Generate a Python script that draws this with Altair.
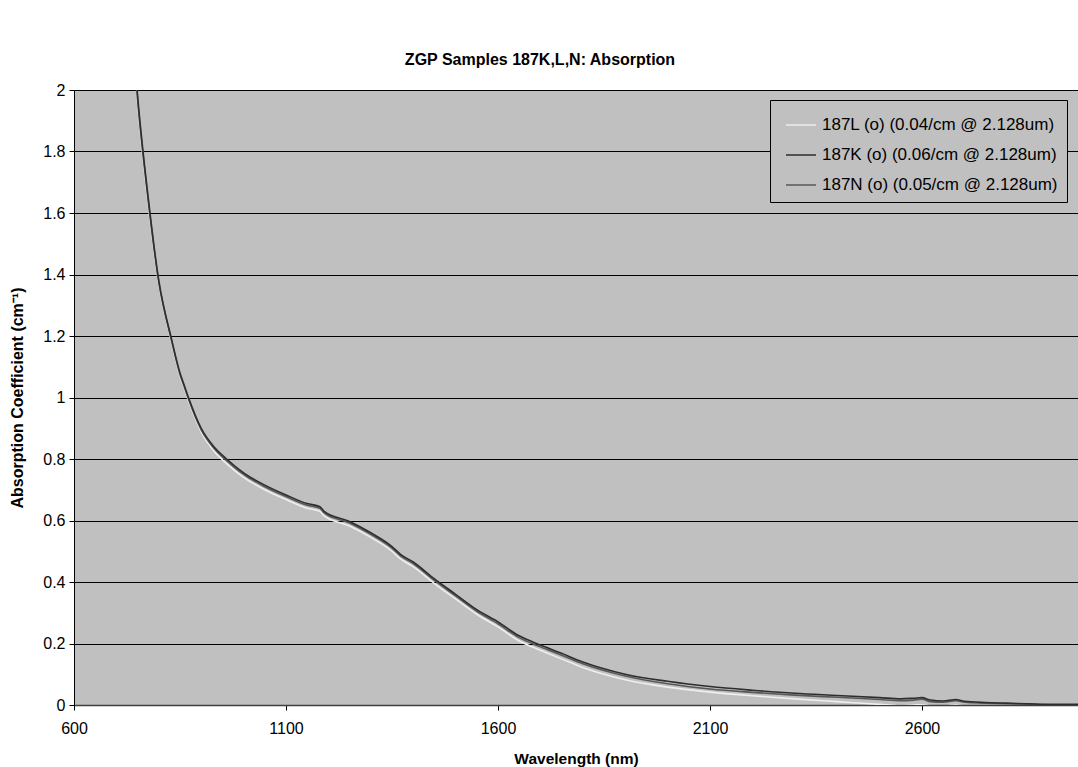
import altair as alt
import pandas as pd

wavelength = [730, 750, 775, 800, 830, 850, 860, 870, 900, 930, 960, 1000, 1050, 1100,
              1150, 1180, 1190, 1250, 1300, 1350, 1370, 1400, 1450, 1500, 1550, 1600,
              1650, 1700, 1750, 1800, 1850, 1900, 2000, 2100, 2200, 2300, 2400, 2500,
              2550, 2580, 2600, 2620, 2650, 2680, 2700, 2750, 2800, 2850, 2900, 2968]

k_vals = [2.35, 1.98, 1.65, 1.38, 1.19, 1.08, 1.04, 1.00, 0.90, 0.84, 0.80, 0.755, 0.715,
          0.683, 0.655, 0.645, 0.63, 0.597, 0.56, 0.515, 0.49, 0.465, 0.41, 0.36, 0.31,
          0.27, 0.225, 0.195, 0.168, 0.14, 0.118, 0.10, 0.077, 0.06, 0.048, 0.038, 0.031,
          0.024, 0.02, 0.022, 0.024, 0.016, 0.013, 0.018, 0.012, 0.008, 0.006, 0.004,
          0.002, 0.002]

n_vals = [2.34, 1.97, 1.64, 1.375, 1.185, 1.075, 1.035, 0.995, 0.895, 0.835, 0.795, 0.75,
          0.71, 0.678, 0.65, 0.64, 0.625, 0.592, 0.555, 0.51, 0.485, 0.46, 0.405, 0.355,
          0.305, 0.264, 0.219, 0.189, 0.162, 0.134, 0.112, 0.094, 0.069, 0.052, 0.041,
          0.032, 0.025, 0.018, 0.014, 0.016, 0.019, 0.011, 0.009, 0.014, 0.009, 0.006,
          0.004, 0.003, 0.001, 0.001]

l_vals = [2.33, 1.96, 1.63, 1.37, 1.18, 1.07, 1.03, 0.99, 0.888, 0.826, 0.785, 0.74, 0.70,
          0.668, 0.64, 0.63, 0.615, 0.582, 0.545, 0.50, 0.475, 0.45, 0.395, 0.345, 0.295,
          0.254, 0.208, 0.178, 0.15, 0.122, 0.1, 0.082, 0.058, 0.042, 0.03, 0.02, 0.011,
          0.002, -0.002, 0.0, 0.001, -0.003, -0.004, 0.0, -0.004, -0.006, -0.007, -0.008,
          -0.009, -0.01]

series_names = ["187L (o) (0.04/cm @ 2.128um)",
                "187K (o) (0.06/cm @ 2.128um)",
                "187N (o) (0.05/cm @ 2.128um)"]
series_colors = ["#EEEEEE", "#2E2E2E", "#585858"]

frames = []
for name, vals in zip(series_names, [l_vals, k_vals, n_vals]):
    frames.append(pd.DataFrame({"Wavelength": wavelength, "Absorption": vals, "Series": name}))
df = pd.concat(frames, ignore_index=True)

FONT = "Liberation Sans"

x_enc = alt.X("Wavelength:Q",
              scale=alt.Scale(domain=[600, 2968], nice=False, zero=False),
              axis=alt.Axis(values=[600, 1100, 1600, 2100, 2600], grid=False,
                            title="Wavelength (nm)", format="d", labelFlush=False,
                            tickSize=5, tickColor="#000000", domainColor="#404040",
                            domainWidth=1.5, labelPadding=10, titlePadding=15,
                            labelFontSize=16, titleFontSize=15.5, titleFontWeight="bold",
                            labelColor="#000000", titleColor="#000000"))
y_enc = alt.Y("Absorption:Q",
              scale=alt.Scale(domain=[0, 2], nice=False),
              axis=alt.Axis(values=[0, 0.2, 0.4, 0.6, 0.8, 1, 1.2, 1.4, 1.6, 1.8, 2],
                            format="~g", title="Absorption Coefficient (cm⁻¹)",
                            grid=True, gridColor="#000000", gridWidth=1, labelFlush=False,
                            tickSize=5, tickColor="#000000", domainColor="#000000",
                            labelPadding=4, titlePadding=17,
                            labelFontSize=16, titleFontSize=16, titleFontWeight="bold",
                            labelColor="#000000", titleColor="#000000"))
color_enc = alt.Color("Series:N",
                      scale=alt.Scale(domain=series_names, range=series_colors),
                      legend=alt.Legend(title=None, orient="none", legendX=696, legendY=10,
                                        fillColor="#C0C0C0", strokeColor="#000000",
                                        padding=9, symbolOffset=6,
                                        symbolType="stroke", symbolSize=900,
                                        symbolStrokeWidth=1.5, labelFontSize=17,
                                        labelColor="#000000", rowPadding=6, labelOffset=5,
                                        labelLimit=400))

layers = []
for name in [series_names[0], series_names[2], series_names[1]]:
    layers.append(
        alt.Chart(df).transform_filter(alt.datum.Series == name)
        .mark_line(clip=True, strokeWidth=1.6, interpolate="monotone")
        .encode(x=x_enc, y=y_enc, color=color_enc)
    )

chart = alt.layer(*layers).properties(
    width=1004, height=615,
    title=alt.TitleParams("ZGP Samples 187K,L,N: Absorption", fontSize=16,
                          fontWeight="bold", font=FONT, color="#000000",
                          anchor="middle", dx=-36, offset=14),
    autosize=alt.AutoSizeParams(type="none"),
    padding={"left": 74, "top": 90, "right": 0, "bottom": 62},
    background="#FFFFFF",
).configure(font=FONT).configure_view(fill="#C0C0C0", stroke="#A0A0A0", strokeWidth=1)

chart.save("out.html", embed_options={"renderer": "svg", "actions": False})
